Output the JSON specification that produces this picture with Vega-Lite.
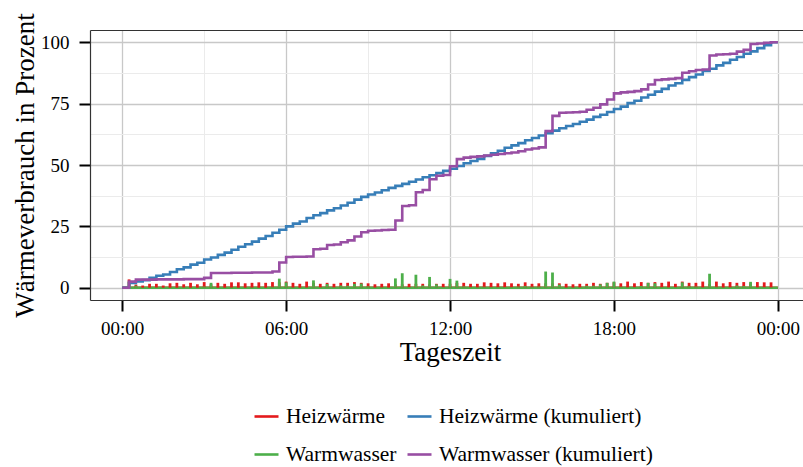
{
  "$schema": "https://vega.github.io/schema/vega-lite/v6.json",
  "width": 713,
  "height": 270,
  "autosize": {"type": "none"},
  "padding": {"left": 90, "top": 30, "right": 0, "bottom": 167},
  "background": "white",
  "config": {
    "view": {"stroke": null},
    "font": "Liberation Serif",
    "axis": {"labelFont": "Liberation Serif", "titleFont": "Liberation Serif", "labelColor": "#000000", "titleColor": "#000000", "titleFontWeight": "normal", "labelOverlap": false, "labelFlush": false},
    "legend": {"orient": "none", "legendX": 163, "legendY": 373, "direction": "horizontal", "columns": 2, "columnPadding": 5, "rowPadding": 14, "symbolType": "stroke", "symbolSize": 576, "symbolStrokeWidth": 2.6, "labelFont": "Liberation Serif", "labelFontSize": 21.5, "labelOffset": 6, "labelColor": "#000000", "labelLimit": 400}
  },
  "datasets": {
    "werte": [
      {"zeit":0,"serie":"Heizwärme","wert":0},{"zeit":0.25,"serie":"Heizwärme","wert":3.4},{"zeit":0.5,"serie":"Heizwärme","wert":1.3},{"zeit":0.75,"serie":"Heizwärme","wert":0.9},{"zeit":1,"serie":"Heizwärme","wert":1.6},{"zeit":1.25,"serie":"Heizwärme","wert":1.6},{"zeit":1.5,"serie":"Heizwärme","wert":0.9},{"zeit":1.75,"serie":"Heizwärme","wert":1.8},{"zeit":2,"serie":"Heizwärme","wert":2.0},{"zeit":2.25,"serie":"Heizwärme","wert":1.4},{"zeit":2.5,"serie":"Heizwärme","wert":2.0},{"zeit":2.75,"serie":"Heizwärme","wert":1.4},{"zeit":3,"serie":"Heizwärme","wert":2.3},{"zeit":3.25,"serie":"Heizwärme","wert":1.4},{"zeit":3.5,"serie":"Heizwärme","wert":2.0},{"zeit":3.75,"serie":"Heizwärme","wert":1.6},{"zeit":4,"serie":"Heizwärme","wert":2.2},{"zeit":4.25,"serie":"Heizwärme","wert":2.2},{"zeit":4.5,"serie":"Heizwärme","wert":1.8},{"zeit":4.75,"serie":"Heizwärme","wert":2.0},{"zeit":5,"serie":"Heizwärme","wert":2.2},{"zeit":5.25,"serie":"Heizwärme","wert":2.0},{"zeit":5.5,"serie":"Heizwärme","wert":2.3},{"zeit":5.75,"serie":"Heizwärme","wert":2.2},{"zeit":6,"serie":"Heizwärme","wert":2.5},{"zeit":6.25,"serie":"Heizwärme","wert":2.0},{"zeit":6.5,"serie":"Heizwärme","wert":1.6},{"zeit":6.75,"serie":"Heizwärme","wert":2.5},{"zeit":7,"serie":"Heizwärme","wert":2.0},{"zeit":7.25,"serie":"Heizwärme","wert":1.6},{"zeit":7.5,"serie":"Heizwärme","wert":2.0},{"zeit":7.75,"serie":"Heizwärme","wert":1.6},{"zeit":8,"serie":"Heizwärme","wert":2.0},{"zeit":8.25,"serie":"Heizwärme","wert":2.0},{"zeit":8.5,"serie":"Heizwärme","wert":2.3},{"zeit":8.75,"serie":"Heizwärme","wert":2.0},{"zeit":9,"serie":"Heizwärme","wert":1.8},{"zeit":9.25,"serie":"Heizwärme","wert":1.4},{"zeit":9.5,"serie":"Heizwärme","wert":1.6},{"zeit":9.75,"serie":"Heizwärme","wert":1.8},{"zeit":10,"serie":"Heizwärme","wert":1.4},{"zeit":10.25,"serie":"Heizwärme","wert":1.4},{"zeit":10.5,"serie":"Heizwärme","wert":1.6},{"zeit":10.75,"serie":"Heizwärme","wert":1.6},{"zeit":11,"serie":"Heizwärme","wert":1.6},{"zeit":11.25,"serie":"Heizwärme","wert":1.4},{"zeit":11.5,"serie":"Heizwärme","wert":1.6},{"zeit":11.75,"serie":"Heizwärme","wert":1.6},{"zeit":12,"serie":"Heizwärme","wert":1.6},{"zeit":12.25,"serie":"Heizwärme","wert":2.0},{"zeit":12.5,"serie":"Heizwärme","wert":2.0},{"zeit":12.75,"serie":"Heizwärme","wert":1.6},{"zeit":13,"serie":"Heizwärme","wert":1.6},{"zeit":13.25,"serie":"Heizwärme","wert":2.2},{"zeit":13.5,"serie":"Heizwärme","wert":2.0},{"zeit":13.75,"serie":"Heizwärme","wert":1.8},{"zeit":14,"serie":"Heizwärme","wert":2.2},{"zeit":14.25,"serie":"Heizwärme","wert":1.8},{"zeit":14.5,"serie":"Heizwärme","wert":1.6},{"zeit":14.75,"serie":"Heizwärme","wert":2.2},{"zeit":15,"serie":"Heizwärme","wert":1.6},{"zeit":15.25,"serie":"Heizwärme","wert":1.8},{"zeit":15.5,"serie":"Heizwärme","wert":1.8},{"zeit":15.75,"serie":"Heizwärme","wert":1.8},{"zeit":16,"serie":"Heizwärme","wert":1.8},{"zeit":16.25,"serie":"Heizwärme","wert":1.6},{"zeit":16.5,"serie":"Heizwärme","wert":1.4},{"zeit":16.75,"serie":"Heizwärme","wert":1.6},{"zeit":17,"serie":"Heizwärme","wert":1.6},{"zeit":17.25,"serie":"Heizwärme","wert":2.0},{"zeit":17.5,"serie":"Heizwärme","wert":1.6},{"zeit":17.75,"serie":"Heizwärme","wert":2.0},{"zeit":18,"serie":"Heizwärme","wert":2.2},{"zeit":18.25,"serie":"Heizwärme","wert":1.8},{"zeit":18.5,"serie":"Heizwärme","wert":2.5},{"zeit":18.75,"serie":"Heizwärme","wert":1.8},{"zeit":19,"serie":"Heizwärme","wert":2.3},{"zeit":19.25,"serie":"Heizwärme","wert":2.0},{"zeit":19.5,"serie":"Heizwärme","wert":2.3},{"zeit":19.75,"serie":"Heizwärme","wert":2.0},{"zeit":20,"serie":"Heizwärme","wert":2.5},{"zeit":20.25,"serie":"Heizwärme","wert":1.6},{"zeit":20.5,"serie":"Heizwärme","wert":2.5},{"zeit":20.75,"serie":"Heizwärme","wert":2.0},{"zeit":21,"serie":"Heizwärme","wert":2.0},{"zeit":21.25,"serie":"Heizwärme","wert":2.5},{"zeit":21.5,"serie":"Heizwärme","wert":1.6},{"zeit":21.75,"serie":"Heizwärme","wert":2.5},{"zeit":22,"serie":"Heizwärme","wert":1.8},{"zeit":22.25,"serie":"Heizwärme","wert":2.3},{"zeit":22.5,"serie":"Heizwärme","wert":2.0},{"zeit":22.75,"serie":"Heizwärme","wert":2.3},{"zeit":23,"serie":"Heizwärme","wert":1.8},{"zeit":23.25,"serie":"Heizwärme","wert":2.3},{"zeit":23.5,"serie":"Heizwärme","wert":2.2},{"zeit":23.75,"serie":"Heizwärme","wert":2.2},{"zeit":24,"serie":"Heizwärme","wert":0},

      {"zeit":0,"serie":"Heizwärme (kumuliert)","wert":0},{"zeit":0.25,"serie":"Heizwärme (kumuliert)","wert":1.9},{"zeit":0.5,"serie":"Heizwärme (kumuliert)","wert":2.6},{"zeit":0.75,"serie":"Heizwärme (kumuliert)","wert":3.1},{"zeit":1,"serie":"Heizwärme (kumuliert)","wert":4.0},{"zeit":1.25,"serie":"Heizwärme (kumuliert)","wert":4.9},{"zeit":1.5,"serie":"Heizwärme (kumuliert)","wert":5.4},{"zeit":1.75,"serie":"Heizwärme (kumuliert)","wert":6.4},{"zeit":2,"serie":"Heizwärme (kumuliert)","wert":7.5},{"zeit":2.25,"serie":"Heizwärme (kumuliert)","wert":8.3},{"zeit":2.5,"serie":"Heizwärme (kumuliert)","wert":9.4},{"zeit":2.75,"serie":"Heizwärme (kumuliert)","wert":10.2},{"zeit":3,"serie":"Heizwärme (kumuliert)","wert":11.5},{"zeit":3.25,"serie":"Heizwärme (kumuliert)","wert":12.3},{"zeit":3.5,"serie":"Heizwärme (kumuliert)","wert":13.4},{"zeit":3.75,"serie":"Heizwärme (kumuliert)","wert":14.3},{"zeit":4,"serie":"Heizwärme (kumuliert)","wert":15.5},{"zeit":4.25,"serie":"Heizwärme (kumuliert)","wert":16.7},{"zeit":4.5,"serie":"Heizwärme (kumuliert)","wert":17.7},{"zeit":4.75,"serie":"Heizwärme (kumuliert)","wert":18.8},{"zeit":5,"serie":"Heizwärme (kumuliert)","wert":20.0},{"zeit":5.25,"serie":"Heizwärme (kumuliert)","wert":21.1},{"zeit":5.5,"serie":"Heizwärme (kumuliert)","wert":22.4},{"zeit":5.75,"serie":"Heizwärme (kumuliert)","wert":23.6},{"zeit":6,"serie":"Heizwärme (kumuliert)","wert":25.0},{"zeit":6.25,"serie":"Heizwärme (kumuliert)","wert":26.1},{"zeit":6.5,"serie":"Heizwärme (kumuliert)","wert":27.0},{"zeit":6.75,"serie":"Heizwärme (kumuliert)","wert":28.4},{"zeit":7,"serie":"Heizwärme (kumuliert)","wert":29.5},{"zeit":7.25,"serie":"Heizwärme (kumuliert)","wert":30.4},{"zeit":7.5,"serie":"Heizwärme (kumuliert)","wert":31.5},{"zeit":7.75,"serie":"Heizwärme (kumuliert)","wert":32.4},{"zeit":8,"serie":"Heizwärme (kumuliert)","wert":33.5},{"zeit":8.25,"serie":"Heizwärme (kumuliert)","wert":34.6},{"zeit":8.5,"serie":"Heizwärme (kumuliert)","wert":35.9},{"zeit":8.75,"serie":"Heizwärme (kumuliert)","wert":37.0},{"zeit":9,"serie":"Heizwärme (kumuliert)","wert":38.0},{"zeit":9.25,"serie":"Heizwärme (kumuliert)","wert":38.8},{"zeit":9.5,"serie":"Heizwärme (kumuliert)","wert":39.7},{"zeit":9.75,"serie":"Heizwärme (kumuliert)","wert":40.7},{"zeit":10,"serie":"Heizwärme (kumuliert)","wert":41.5},{"zeit":10.25,"serie":"Heizwärme (kumuliert)","wert":42.3},{"zeit":10.5,"serie":"Heizwärme (kumuliert)","wert":43.2},{"zeit":10.75,"serie":"Heizwärme (kumuliert)","wert":44.1},{"zeit":11,"serie":"Heizwärme (kumuliert)","wert":45.0},{"zeit":11.25,"serie":"Heizwärme (kumuliert)","wert":45.8},{"zeit":11.5,"serie":"Heizwärme (kumuliert)","wert":46.7},{"zeit":11.75,"serie":"Heizwärme (kumuliert)","wert":47.6},{"zeit":12,"serie":"Heizwärme (kumuliert)","wert":48.5},{"zeit":12.25,"serie":"Heizwärme (kumuliert)","wert":49.6},{"zeit":12.5,"serie":"Heizwärme (kumuliert)","wert":50.7},{"zeit":12.75,"serie":"Heizwärme (kumuliert)","wert":51.6},{"zeit":13,"serie":"Heizwärme (kumuliert)","wert":52.5},{"zeit":13.25,"serie":"Heizwärme (kumuliert)","wert":53.7},{"zeit":13.5,"serie":"Heizwärme (kumuliert)","wert":54.8},{"zeit":13.75,"serie":"Heizwärme (kumuliert)","wert":55.8},{"zeit":14,"serie":"Heizwärme (kumuliert)","wert":57.0},{"zeit":14.25,"serie":"Heizwärme (kumuliert)","wert":58.0},{"zeit":14.5,"serie":"Heizwärme (kumuliert)","wert":58.9},{"zeit":14.75,"serie":"Heizwärme (kumuliert)","wert":60.1},{"zeit":15,"serie":"Heizwärme (kumuliert)","wert":61.0},{"zeit":15.25,"serie":"Heizwärme (kumuliert)","wert":62.0},{"zeit":15.5,"serie":"Heizwärme (kumuliert)","wert":63.0},{"zeit":15.75,"serie":"Heizwärme (kumuliert)","wert":64.0},{"zeit":16,"serie":"Heizwärme (kumuliert)","wert":65.0},{"zeit":16.25,"serie":"Heizwärme (kumuliert)","wert":65.9},{"zeit":16.5,"serie":"Heizwärme (kumuliert)","wert":66.7},{"zeit":16.75,"serie":"Heizwärme (kumuliert)","wert":67.6},{"zeit":17,"serie":"Heizwärme (kumuliert)","wert":68.5},{"zeit":17.25,"serie":"Heizwärme (kumuliert)","wert":69.6},{"zeit":17.5,"serie":"Heizwärme (kumuliert)","wert":70.5},{"zeit":17.75,"serie":"Heizwärme (kumuliert)","wert":71.6},{"zeit":18,"serie":"Heizwärme (kumuliert)","wert":72.8},{"zeit":18.25,"serie":"Heizwärme (kumuliert)","wert":73.8},{"zeit":18.5,"serie":"Heizwärme (kumuliert)","wert":75.2},{"zeit":18.75,"serie":"Heizwärme (kumuliert)","wert":76.2},{"zeit":19,"serie":"Heizwärme (kumuliert)","wert":77.5},{"zeit":19.25,"serie":"Heizwärme (kumuliert)","wert":78.6},{"zeit":19.5,"serie":"Heizwärme (kumuliert)","wert":79.9},{"zeit":19.75,"serie":"Heizwärme (kumuliert)","wert":81.0},{"zeit":20,"serie":"Heizwärme (kumuliert)","wert":82.4},{"zeit":20.25,"serie":"Heizwärme (kumuliert)","wert":83.3},{"zeit":20.5,"serie":"Heizwärme (kumuliert)","wert":84.7},{"zeit":20.75,"serie":"Heizwärme (kumuliert)","wert":85.8},{"zeit":21,"serie":"Heizwärme (kumuliert)","wert":86.9},{"zeit":21.25,"serie":"Heizwärme (kumuliert)","wert":88.3},{"zeit":21.5,"serie":"Heizwärme (kumuliert)","wert":89.2},{"zeit":21.75,"serie":"Heizwärme (kumuliert)","wert":90.6},{"zeit":22,"serie":"Heizwärme (kumuliert)","wert":91.6},{"zeit":22.25,"serie":"Heizwärme (kumuliert)","wert":92.9},{"zeit":22.5,"serie":"Heizwärme (kumuliert)","wert":94.0},{"zeit":22.75,"serie":"Heizwärme (kumuliert)","wert":95.3},{"zeit":23,"serie":"Heizwärme (kumuliert)","wert":96.3},{"zeit":23.25,"serie":"Heizwärme (kumuliert)","wert":97.6},{"zeit":23.5,"serie":"Heizwärme (kumuliert)","wert":98.8},{"zeit":23.75,"serie":"Heizwärme (kumuliert)","wert":100},{"zeit":24,"serie":"Heizwärme (kumuliert)","wert":100},

      {"zeit":0,"serie":"Warmwasser","wert":0},{"zeit":0.25,"serie":"Warmwasser","wert":2.5},{"zeit":0.5,"serie":"Warmwasser","wert":0.8},{"zeit":0.75,"serie":"Warmwasser","wert":0},{"zeit":1,"serie":"Warmwasser","wert":0},{"zeit":1.25,"serie":"Warmwasser","wert":0.1},{"zeit":1.5,"serie":"Warmwasser","wert":0},{"zeit":1.75,"serie":"Warmwasser","wert":0},{"zeit":2,"serie":"Warmwasser","wert":0},{"zeit":2.25,"serie":"Warmwasser","wert":0.1},{"zeit":2.5,"serie":"Warmwasser","wert":0},{"zeit":2.75,"serie":"Warmwasser","wert":0},{"zeit":3,"serie":"Warmwasser","wert":0.5},{"zeit":3.25,"serie":"Warmwasser","wert":2.0},{"zeit":3.5,"serie":"Warmwasser","wert":0},{"zeit":3.75,"serie":"Warmwasser","wert":0},{"zeit":4,"serie":"Warmwasser","wert":0.1},{"zeit":4.25,"serie":"Warmwasser","wert":0},{"zeit":4.5,"serie":"Warmwasser","wert":0},{"zeit":4.75,"serie":"Warmwasser","wert":0.1},{"zeit":5,"serie":"Warmwasser","wert":0},{"zeit":5.25,"serie":"Warmwasser","wert":0},{"zeit":5.5,"serie":"Warmwasser","wert":0.4},{"zeit":5.75,"serie":"Warmwasser","wert":3.7},{"zeit":6,"serie":"Warmwasser","wert":2.2},{"zeit":6.25,"serie":"Warmwasser","wert":0.1},{"zeit":6.5,"serie":"Warmwasser","wert":0},{"zeit":6.75,"serie":"Warmwasser","wert":0.1},{"zeit":7,"serie":"Warmwasser","wert":3.0},{"zeit":7.25,"serie":"Warmwasser","wert":0.2},{"zeit":7.5,"serie":"Warmwasser","wert":1.5},{"zeit":7.75,"serie":"Warmwasser","wert":0.2},{"zeit":8,"serie":"Warmwasser","wert":0.9},{"zeit":8.25,"serie":"Warmwasser","wert":0.8},{"zeit":8.5,"serie":"Warmwasser","wert":1.6},{"zeit":8.75,"serie":"Warmwasser","wert":1.7},{"zeit":9,"serie":"Warmwasser","wert":0.6},{"zeit":9.25,"serie":"Warmwasser","wert":0.1},{"zeit":9.5,"serie":"Warmwasser","wert":0.2},{"zeit":9.75,"serie":"Warmwasser","wert":0.1},{"zeit":10,"serie":"Warmwasser","wert":3.8},{"zeit":10.25,"serie":"Warmwasser","wert":5.9},{"zeit":10.5,"serie":"Warmwasser","wert":0.3},{"zeit":10.75,"serie":"Warmwasser","wert":5.3},{"zeit":11,"serie":"Warmwasser","wert":0.9},{"zeit":11.25,"serie":"Warmwasser","wert":4.4},{"zeit":11.5,"serie":"Warmwasser","wert":1.4},{"zeit":11.75,"serie":"Warmwasser","wert":0.3},{"zeit":12,"serie":"Warmwasser","wert":3.6},{"zeit":12.25,"serie":"Warmwasser","wert":2.9},{"zeit":12.5,"serie":"Warmwasser","wert":0.6},{"zeit":12.75,"serie":"Warmwasser","wert":0.3},{"zeit":13,"serie":"Warmwasser","wert":0.2},{"zeit":13.25,"serie":"Warmwasser","wert":0.4},{"zeit":13.5,"serie":"Warmwasser","wert":0.3},{"zeit":13.75,"serie":"Warmwasser","wert":0.3},{"zeit":14,"serie":"Warmwasser","wert":0.3},{"zeit":14.25,"serie":"Warmwasser","wert":0.3},{"zeit":14.5,"serie":"Warmwasser","wert":0.5},{"zeit":14.75,"serie":"Warmwasser","wert":0.7},{"zeit":15,"serie":"Warmwasser","wert":0.4},{"zeit":15.25,"serie":"Warmwasser","wert":0.5},{"zeit":15.5,"serie":"Warmwasser","wert":6.6},{"zeit":15.75,"serie":"Warmwasser","wert":6.2},{"zeit":16,"serie":"Warmwasser","wert":1.3},{"zeit":16.25,"serie":"Warmwasser","wert":0.1},{"zeit":16.5,"serie":"Warmwasser","wert":0.1},{"zeit":16.75,"serie":"Warmwasser","wert":0.2},{"zeit":17,"serie":"Warmwasser","wert":0.8},{"zeit":17.25,"serie":"Warmwasser","wert":0.8},{"zeit":17.5,"serie":"Warmwasser","wert":1.4},{"zeit":17.75,"serie":"Warmwasser","wert":2.0},{"zeit":18,"serie":"Warmwasser","wert":2.5},{"zeit":18.25,"serie":"Warmwasser","wert":0.4},{"zeit":18.5,"serie":"Warmwasser","wert":0.2},{"zeit":18.75,"serie":"Warmwasser","wert":0.3},{"zeit":19,"serie":"Warmwasser","wert":0.7},{"zeit":19.25,"serie":"Warmwasser","wert":2.0},{"zeit":19.5,"serie":"Warmwasser","wert":1.8},{"zeit":19.75,"serie":"Warmwasser","wert":0.3},{"zeit":20,"serie":"Warmwasser","wert":0.2},{"zeit":20.25,"serie":"Warmwasser","wert":0.3},{"zeit":20.5,"serie":"Warmwasser","wert":2.2},{"zeit":20.75,"serie":"Warmwasser","wert":0.6},{"zeit":21,"serie":"Warmwasser","wert":0.5},{"zeit":21.25,"serie":"Warmwasser","wert":0.2},{"zeit":21.5,"serie":"Warmwasser","wert":5.7},{"zeit":21.75,"serie":"Warmwasser","wert":0.4},{"zeit":22,"serie":"Warmwasser","wert":0.1},{"zeit":22.25,"serie":"Warmwasser","wert":0.2},{"zeit":22.5,"serie":"Warmwasser","wert":0.9},{"zeit":22.75,"serie":"Warmwasser","wert":0.7},{"zeit":23,"serie":"Warmwasser","wert":2.4},{"zeit":23.25,"serie":"Warmwasser","wert":0.2},{"zeit":23.5,"serie":"Warmwasser","wert":0.3},{"zeit":23.75,"serie":"Warmwasser","wert":0.2},{"zeit":24,"serie":"Warmwasser","wert":0},

      {"zeit":0,"serie":"Warmwasser (kumuliert)","wert":0},{"zeit":0.25,"serie":"Warmwasser (kumuliert)","wert":2.5},{"zeit":0.5,"serie":"Warmwasser (kumuliert)","wert":3.3},{"zeit":0.75,"serie":"Warmwasser (kumuliert)","wert":3.3},{"zeit":1,"serie":"Warmwasser (kumuliert)","wert":3.3},{"zeit":1.25,"serie":"Warmwasser (kumuliert)","wert":3.4},{"zeit":1.5,"serie":"Warmwasser (kumuliert)","wert":3.4},{"zeit":1.75,"serie":"Warmwasser (kumuliert)","wert":3.4},{"zeit":2,"serie":"Warmwasser (kumuliert)","wert":3.4},{"zeit":2.25,"serie":"Warmwasser (kumuliert)","wert":3.5},{"zeit":2.5,"serie":"Warmwasser (kumuliert)","wert":3.5},{"zeit":2.75,"serie":"Warmwasser (kumuliert)","wert":3.5},{"zeit":3,"serie":"Warmwasser (kumuliert)","wert":4.0},{"zeit":3.25,"serie":"Warmwasser (kumuliert)","wert":6.0},{"zeit":3.5,"serie":"Warmwasser (kumuliert)","wert":6.0},{"zeit":3.75,"serie":"Warmwasser (kumuliert)","wert":6.0},{"zeit":4,"serie":"Warmwasser (kumuliert)","wert":6.1},{"zeit":4.25,"serie":"Warmwasser (kumuliert)","wert":6.1},{"zeit":4.5,"serie":"Warmwasser (kumuliert)","wert":6.1},{"zeit":4.75,"serie":"Warmwasser (kumuliert)","wert":6.2},{"zeit":5,"serie":"Warmwasser (kumuliert)","wert":6.2},{"zeit":5.25,"serie":"Warmwasser (kumuliert)","wert":6.2},{"zeit":5.5,"serie":"Warmwasser (kumuliert)","wert":6.6},{"zeit":5.75,"serie":"Warmwasser (kumuliert)","wert":10.3},{"zeit":6,"serie":"Warmwasser (kumuliert)","wert":12.5},{"zeit":6.25,"serie":"Warmwasser (kumuliert)","wert":12.6},{"zeit":6.5,"serie":"Warmwasser (kumuliert)","wert":12.6},{"zeit":6.75,"serie":"Warmwasser (kumuliert)","wert":12.7},{"zeit":7,"serie":"Warmwasser (kumuliert)","wert":15.7},{"zeit":7.25,"serie":"Warmwasser (kumuliert)","wert":15.9},{"zeit":7.5,"serie":"Warmwasser (kumuliert)","wert":17.4},{"zeit":7.75,"serie":"Warmwasser (kumuliert)","wert":17.6},{"zeit":8,"serie":"Warmwasser (kumuliert)","wert":18.5},{"zeit":8.25,"serie":"Warmwasser (kumuliert)","wert":19.3},{"zeit":8.5,"serie":"Warmwasser (kumuliert)","wert":20.9},{"zeit":8.75,"serie":"Warmwasser (kumuliert)","wert":22.6},{"zeit":9,"serie":"Warmwasser (kumuliert)","wert":23.2},{"zeit":9.25,"serie":"Warmwasser (kumuliert)","wert":23.3},{"zeit":9.5,"serie":"Warmwasser (kumuliert)","wert":23.5},{"zeit":9.75,"serie":"Warmwasser (kumuliert)","wert":23.6},{"zeit":10,"serie":"Warmwasser (kumuliert)","wert":27.4},{"zeit":10.25,"serie":"Warmwasser (kumuliert)","wert":33.3},{"zeit":10.5,"serie":"Warmwasser (kumuliert)","wert":33.6},{"zeit":10.75,"serie":"Warmwasser (kumuliert)","wert":38.9},{"zeit":11,"serie":"Warmwasser (kumuliert)","wert":39.8},{"zeit":11.25,"serie":"Warmwasser (kumuliert)","wert":44.2},{"zeit":11.5,"serie":"Warmwasser (kumuliert)","wert":45.6},{"zeit":11.75,"serie":"Warmwasser (kumuliert)","wert":45.9},{"zeit":12,"serie":"Warmwasser (kumuliert)","wert":49.5},{"zeit":12.25,"serie":"Warmwasser (kumuliert)","wert":52.4},{"zeit":12.5,"serie":"Warmwasser (kumuliert)","wert":53.0},{"zeit":12.75,"serie":"Warmwasser (kumuliert)","wert":53.3},{"zeit":13,"serie":"Warmwasser (kumuliert)","wert":53.5},{"zeit":13.25,"serie":"Warmwasser (kumuliert)","wert":53.9},{"zeit":13.5,"serie":"Warmwasser (kumuliert)","wert":54.2},{"zeit":13.75,"serie":"Warmwasser (kumuliert)","wert":54.5},{"zeit":14,"serie":"Warmwasser (kumuliert)","wert":54.8},{"zeit":14.25,"serie":"Warmwasser (kumuliert)","wert":55.1},{"zeit":14.5,"serie":"Warmwasser (kumuliert)","wert":55.6},{"zeit":14.75,"serie":"Warmwasser (kumuliert)","wert":56.3},{"zeit":15,"serie":"Warmwasser (kumuliert)","wert":56.7},{"zeit":15.25,"serie":"Warmwasser (kumuliert)","wert":57.2},{"zeit":15.5,"serie":"Warmwasser (kumuliert)","wert":63.8},{"zeit":15.75,"serie":"Warmwasser (kumuliert)","wert":70.0},{"zeit":16,"serie":"Warmwasser (kumuliert)","wert":71.3},{"zeit":16.25,"serie":"Warmwasser (kumuliert)","wert":71.4},{"zeit":16.5,"serie":"Warmwasser (kumuliert)","wert":71.5},{"zeit":16.75,"serie":"Warmwasser (kumuliert)","wert":71.7},{"zeit":17,"serie":"Warmwasser (kumuliert)","wert":72.5},{"zeit":17.25,"serie":"Warmwasser (kumuliert)","wert":73.3},{"zeit":17.5,"serie":"Warmwasser (kumuliert)","wert":74.7},{"zeit":17.75,"serie":"Warmwasser (kumuliert)","wert":76.7},{"zeit":18,"serie":"Warmwasser (kumuliert)","wert":79.2},{"zeit":18.25,"serie":"Warmwasser (kumuliert)","wert":79.6},{"zeit":18.5,"serie":"Warmwasser (kumuliert)","wert":79.8},{"zeit":18.75,"serie":"Warmwasser (kumuliert)","wert":80.1},{"zeit":19,"serie":"Warmwasser (kumuliert)","wert":80.8},{"zeit":19.25,"serie":"Warmwasser (kumuliert)","wert":82.8},{"zeit":19.5,"serie":"Warmwasser (kumuliert)","wert":84.6},{"zeit":19.75,"serie":"Warmwasser (kumuliert)","wert":84.9},{"zeit":20,"serie":"Warmwasser (kumuliert)","wert":85.1},{"zeit":20.25,"serie":"Warmwasser (kumuliert)","wert":85.4},{"zeit":20.5,"serie":"Warmwasser (kumuliert)","wert":87.6},{"zeit":20.75,"serie":"Warmwasser (kumuliert)","wert":88.2},{"zeit":21,"serie":"Warmwasser (kumuliert)","wert":88.7},{"zeit":21.25,"serie":"Warmwasser (kumuliert)","wert":88.9},{"zeit":21.5,"serie":"Warmwasser (kumuliert)","wert":94.6},{"zeit":21.75,"serie":"Warmwasser (kumuliert)","wert":95.0},{"zeit":22,"serie":"Warmwasser (kumuliert)","wert":95.1},{"zeit":22.25,"serie":"Warmwasser (kumuliert)","wert":95.3},{"zeit":22.5,"serie":"Warmwasser (kumuliert)","wert":96.2},{"zeit":22.75,"serie":"Warmwasser (kumuliert)","wert":96.9},{"zeit":23,"serie":"Warmwasser (kumuliert)","wert":99.3},{"zeit":23.25,"serie":"Warmwasser (kumuliert)","wert":99.5},{"zeit":23.5,"serie":"Warmwasser (kumuliert)","wert":99.8},{"zeit":23.75,"serie":"Warmwasser (kumuliert)","wert":100},{"zeit":24,"serie":"Warmwasser (kumuliert)","wert":100}
    ]
  },
  "data": {"name": "werte"},
  "layer": [
    {
      "transform": [{"filter": "datum.serie === 'Heizwärme'"}],
      "mark": {"type": "line", "strokeWidth": 2.4},
      "encoding": {
        "x": {"field": "zeit", "type": "quantitative", "scale": {"domain": [-1.18, 24.92], "nice": false, "zero": false},
              "axis": {"orient": "top", "values": [3, 9, 15, 21], "grid": true, "gridColor": "#ebebeb", "gridWidth": 1, "ticks": false, "labels": false, "domain": true, "domainColor": "#333333", "domainWidth": 1.2, "title": null}},
        "y": {"datum": 0, "type": "quantitative", "scale": {"domain": [-5, 105], "nice": false, "zero": false}, "axis": null},
        "color": {"field": "serie", "type": "nominal", "title": null, "scale": {"domain": ["Heizwärme", "Heizwärme (kumuliert)", "Warmwasser", "Warmwasser (kumuliert)"], "range": ["#E41A1C", "#377EB8", "#4DAF4A", "#984EA3"]}}
      }
    },
    {
      "transform": [{"filter": "datum.serie === 'Warmwasser'"}],
      "mark": {"type": "line", "strokeWidth": 2.4},
      "encoding": {
        "x": {"field": "zeit", "type": "quantitative", "scale": {"domain": [-1.18, 24.92], "nice": false, "zero": false}, "axis": null},
        "y": {"datum": 0, "type": "quantitative", "scale": {"domain": [-5, 105], "nice": false, "zero": false}, "axis": null},
        "color": {"field": "serie", "type": "nominal", "title": null, "scale": {"domain": ["Heizwärme", "Heizwärme (kumuliert)", "Warmwasser", "Warmwasser (kumuliert)"], "range": ["#E41A1C", "#377EB8", "#4DAF4A", "#984EA3"]}}
      }
    },
    {
      "transform": [{"filter": "datum.serie === 'Heizwärme'"}],
      "mark": {"type": "rule", "strokeWidth": 2.8},
      "encoding": {
        "x": {"field": "zeit", "type": "quantitative", "scale": {"domain": [-1.18, 24.92], "nice": false, "zero": false}, "axis": null},
        "y": {"field": "wert", "type": "quantitative", "scale": {"domain": [-5, 105], "nice": false, "zero": false},
              "axis": {"orient": "right", "values": [12.5, 37.5, 62.5, 87.5], "grid": true, "gridColor": "#ebebeb", "gridWidth": 1, "ticks": false, "labels": false, "domain": false, "title": null}},
        "y2": {"datum": 0},
        "color": {"field": "serie", "type": "nominal", "title": null, "scale": {"domain": ["Heizwärme", "Heizwärme (kumuliert)", "Warmwasser", "Warmwasser (kumuliert)"], "range": ["#E41A1C", "#377EB8", "#4DAF4A", "#984EA3"]}}
      }
    },
    {
      "transform": [{"filter": "datum.serie === 'Warmwasser'"}],
      "mark": {"type": "rule", "strokeWidth": 2.8},
      "encoding": {
        "x": {"field": "zeit", "type": "quantitative", "scale": {"domain": [-1.18, 24.92], "nice": false, "zero": false},
              "axis": {"orient": "bottom", "values": [0, 6, 12, 18, 24], "grid": true, "gridColor": "#c8c8c8", "gridWidth": 1.3, "ticks": true, "tickColor": "#000000", "tickWidth": 2, "tickSize": 11, "labels": true, "labelFontSize": 19, "labelPadding": 8,
                       "labelExpr": "(datum.value % 24 < 10 ? '0' : '') + (datum.value % 24) + ':00'",
                       "domain": true, "domainColor": "#333333", "domainWidth": 1.2,
                       "title": "Tageszeit", "titleFontSize": 27, "titleX": 360, "titleY": 60, "titleBaseline": "alphabetic", "titleAlign": "center"}},
        "y": {"field": "wert", "type": "quantitative", "scale": {"domain": [-5, 105], "nice": false, "zero": false},
              "axis": {"orient": "left", "values": [0, 25, 50, 75, 100], "grid": true, "gridColor": "#c8c8c8", "gridWidth": 1.3, "ticks": true, "tickColor": "#000000", "tickWidth": 2, "tickSize": 11, "labels": true, "labelFontSize": 19, "labelPadding": 10,
                       "domain": true, "domainColor": "#333333", "domainWidth": 1.2,
                       "title": "Wärmeverbrauch in Prozent", "titleFontSize": 27, "titleAngle": 270, "titleX": -57, "titleY": 135, "titleBaseline": "alphabetic", "titleAlign": "center"}},
        "y2": {"datum": 0},
        "color": {"field": "serie", "type": "nominal", "title": null, "scale": {"domain": ["Heizwärme", "Heizwärme (kumuliert)", "Warmwasser", "Warmwasser (kumuliert)"], "range": ["#E41A1C", "#377EB8", "#4DAF4A", "#984EA3"]}}
      }
    },
    {
      "transform": [{"filter": "datum.serie === 'Heizwärme (kumuliert)'"}],
      "mark": {"type": "line", "strokeWidth": 2.6, "interpolate": "step-after"},
      "encoding": {
        "x": {"field": "zeit", "type": "quantitative", "scale": {"domain": [-1.18, 24.92], "nice": false, "zero": false}, "axis": null},
        "y": {"field": "wert", "type": "quantitative", "scale": {"domain": [-5, 105], "nice": false, "zero": false}, "axis": null},
        "color": {"field": "serie", "type": "nominal", "title": null, "scale": {"domain": ["Heizwärme", "Heizwärme (kumuliert)", "Warmwasser", "Warmwasser (kumuliert)"], "range": ["#E41A1C", "#377EB8", "#4DAF4A", "#984EA3"]}}
      }
    },
    {
      "transform": [{"filter": "datum.serie === 'Warmwasser (kumuliert)'"}],
      "mark": {"type": "line", "strokeWidth": 2.6, "interpolate": "step-after"},
      "encoding": {
        "x": {"field": "zeit", "type": "quantitative", "scale": {"domain": [-1.18, 24.92], "nice": false, "zero": false}, "axis": null},
        "y": {"field": "wert", "type": "quantitative", "scale": {"domain": [-5, 105], "nice": false, "zero": false}, "axis": null},
        "color": {"field": "serie", "type": "nominal", "title": null, "scale": {"domain": ["Heizwärme", "Heizwärme (kumuliert)", "Warmwasser", "Warmwasser (kumuliert)"], "range": ["#E41A1C", "#377EB8", "#4DAF4A", "#984EA3"]}}
      }
    }
  ],
  "resolve": {"axis": {"x": "independent", "y": "independent"}}
}
